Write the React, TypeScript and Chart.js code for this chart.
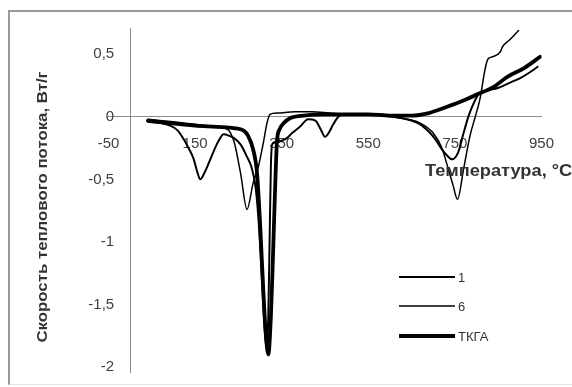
import React, { useEffect, useRef } from 'react';
import { Chart, registerables } from 'chart.js';

Chart.register(...registerables);

// ---- data ----
const seriesNames = ['1', '6', 'ТКГА'];
const xTickValues = [-50, 150, 350, 550, 750, 950];
const yTickValues = [0.5, 0, -0.5, -1, -1.5, -2];
const xTitle = 'Температура, °С';
const yTitle = 'Скорость теплового потока, Вт/г';

const temp1 = [41, 70, 92, 110, 122, 135, 146, 155, 162, 170, 178, 190, 200, 208, 215, 228, 240, 255, 270, 280, 290, 298, 305, 311, 315, 319, 322, 325, 328, 338, 350, 362, 374, 392, 411, 428, 440, 450, 460, 469, 485, 520, 560, 600, 625, 650, 670, 690, 705, 720, 732, 744, 758, 770, 781, 795, 805, 825, 849, 875, 901, 925, 941];
const flow1 = [-0.04, -0.05, -0.07, -0.11, -0.17, -0.25, -0.33, -0.44, -0.5, -0.46, -0.4, -0.3, -0.22, -0.17, -0.14, -0.15, -0.17, -0.22, -0.32, -0.4, -0.57, -0.9, -1.35, -1.72, -1.85, -1.6, -1.0, -0.4, -0.22, -0.2, -0.19, -0.17, -0.13, -0.08, -0.02, -0.03, -0.1, -0.16, -0.12, -0.06, 0.01, 0.02, 0.02, 0.01, -0.01, -0.03, -0.06, -0.12, -0.18, -0.26, -0.31, -0.34, -0.28, -0.13, 0.0, 0.12, 0.18, 0.21, 0.23, 0.27, 0.31, 0.36, 0.4];

const temp6 = [41, 100, 150, 200, 225, 240, 255, 270, 284, 296, 308, 316, 323, 340, 380, 420, 460, 500, 550, 600, 640, 670, 700, 720, 735, 746, 756, 770, 785, 797, 809, 818, 826, 837, 855, 860, 878, 897];
const flow6 = [-0.02, -0.04, -0.06, -0.08, -0.1, -0.2, -0.45, -0.74, -0.53, -0.4, -0.2, -0.05, 0.02, 0.03, 0.04, 0.04, 0.03, 0.02, 0.02, 0.0, -0.02, -0.05, -0.13, -0.25, -0.42, -0.55, -0.66, -0.42, -0.15, 0.0, 0.16, 0.35, 0.46, 0.48, 0.52, 0.56, 0.62, 0.69];

const tempTKGA = [41, 90, 150, 200, 240, 262, 272, 284, 293, 300, 307, 313, 319, 325, 330, 335, 339, 345, 355, 370, 400, 450, 500, 550, 600, 650, 690, 732, 770, 802, 840, 871, 910, 947];
const flowTKGA = [-0.03, -0.05, -0.07, -0.08, -0.09, -0.11, -0.15, -0.26, -0.45, -0.85, -1.35, -1.72, -1.9, -1.6, -1.1, -0.55, -0.2, -0.1, -0.05, -0.01, 0.01, 0.02, 0.02, 0.02, 0.01, 0.01, 0.03, 0.08, 0.13, 0.18, 0.24, 0.32, 0.39, 0.48];

const lineWidths = [2, 1.5, 3.8];

const pts = (t: number[], v: number[]) => t.map((x, i) => ({ x, y: v[i] }));

const FAMILY = '"Liberation Sans", Arial, sans-serif';

const textPlugin = {
  id: 'texts',
  beforeDatasetsDraw(chart: any) {
    // y tick labels, placed through the y scale
    const ctx = chart.ctx;
    const ys = chart.scales.y;
    const xPix = chart.scales.x.getPixelForValue(0);
    ctx.save();
    ctx.fillStyle = '#404040';
    ctx.font = `15px ${FAMILY}`;
    ctx.textAlign = 'right';
    ctx.textBaseline = 'middle';
    yTickValues.forEach((v) => {
      ctx.fillText(String(v).replace('.', ','), xPix - 16, ys.getPixelForValue(v));
    });
    ctx.restore();
  },
  afterDraw(chart: any) {
    const ctx = chart.ctx;
    ctx.save();
    ctx.fillStyle = '#333333';
    ctx.font = `bold 15px ${FAMILY}`;
    ctx.textAlign = 'center';
    ctx.textBaseline = 'middle';
    // y title
    ctx.save();
    ctx.translate(43, 207);
    ctx.rotate(-Math.PI / 2);
    ctx.scale(1.12, 1);
    ctx.fillText(yTitle, 0, 0);
    ctx.restore();
    // x title
    ctx.save();
    ctx.font = `bold 16px ${FAMILY}`;
    ctx.textAlign = 'left';
    ctx.translate(425, 172);
    ctx.scale(1.14, 1);
    ctx.fillText(xTitle, 0, 0);
    ctx.restore();
    // legend
    const ly = [277, 306, 336];
    ctx.font = `13px ${FAMILY}`;
    ctx.textAlign = 'left';
    chart.data.datasets.forEach((ds: any, i: number) => {
      ctx.beginPath();
      ctx.strokeStyle = ds.borderColor;
      ctx.lineWidth = ds.borderWidth;
      ctx.moveTo(399, ly[i]);
      ctx.lineTo(455, ly[i]);
      ctx.stroke();
      ctx.fillStyle = '#333333';
      ctx.fillText(ds.label, 458, ly[i] + 1);
    });
    ctx.restore();
  },
};

export default function App() {
  const ref = useRef<HTMLCanvasElement>(null);
  useEffect(() => {
    const canvas = ref.current;
    if (!canvas) return;
    const tickFont = { family: FAMILY, size: 15 };
    const chart = new Chart(canvas, {
      type: 'scatter',
      data: {
        datasets: [
          { label: seriesNames[0], data: pts(temp1, flow1) },
          { label: seriesNames[1], data: pts(temp6, flow6) },
          { label: seriesNames[2], data: pts(tempTKGA, flowTKGA) },
        ].map((d, i) => ({
          ...d,
          borderColor: '#000000',
          backgroundColor: '#000000',
          borderWidth: lineWidths[i],
          showLine: true,
          pointRadius: 0,
          cubicInterpolationMode: 'monotone' as const,
          borderCapStyle: 'round' as const,
          borderJoinStyle: 'round' as const,
        })),
      },
      options: {
        responsive: false,
        animation: false,
        events: [],
        layout: { padding: { left: 108.5, right: 28.5, top: 28, bottom: 15 } },
        plugins: { legend: { display: false }, tooltip: { enabled: false } },
        scales: {
          x: {
            type: 'linear',
            min: -50,
            max: 950,
            position: { y: 0 } as any,
            grid: { display: false, drawTicks: false },
            border: { display: true, color: '#8c8c8c', width: 1 },
            ticks: { padding: 18, color: '#404040', font: tickFont, callback: (v: any) => String(v) },
            afterBuildTicks: (s: any) => { s.ticks = xTickValues.map((value) => ({ value })); },
          },
          y: {
            type: 'linear',
            min: -2.04,
            max: 0.71,
            position: { x: 0 } as any,
            grid: { display: false, drawTicks: false },
            border: { display: true, color: '#8c8c8c', width: 1 },
            ticks: { display: false },
            afterBuildTicks: (s: any) => { s.ticks = yTickValues.map((value) => ({ value })); },
          },
        },
      },
      plugins: [textPlugin],
    });
    return () => chart.destroy();
  }, []);
  return (
    <div style={{ position: 'absolute', left: 0, top: 0, width: 572, height: 387, overflow: 'hidden', background: '#ffffff' }}>
      <div style={{ position: 'absolute', left: 8, top: 10, width: 620, height: 372, borderLeft: '2px solid #9a9a9a', borderTop: '2px solid #9a9a9a', borderBottom: '1px solid #e4e4e4' }} />
      <canvas ref={ref} width={572} height={387} style={{ position: 'absolute', left: 0, top: 0, width: 572, height: 387 }} />
    </div>
  );
}
